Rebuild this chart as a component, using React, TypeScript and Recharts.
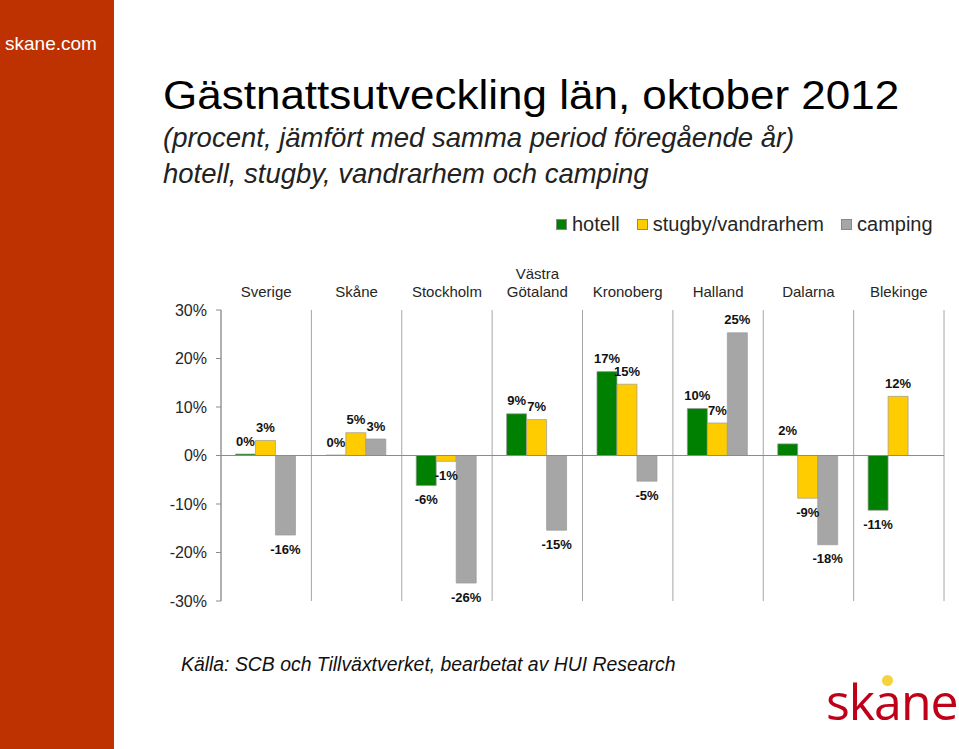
import React from 'react';
import { BarChart, Bar, XAxis, YAxis, CartesianGrid, ReferenceLine, Legend, LabelList } from 'recharts';

const FONT = '"Liberation Sans", Arial, sans-serif';

// Gästnätter, förändring i procent mot oktober 2011
const regions = ['Sverige', 'Skåne', 'Stockholm', 'Västra Götaland', 'Kronoberg', 'Halland', 'Dalarna', 'Blekinge'];
const hotell = [0.3, 0.1, -6.2, 8.6, 17.3, 9.7, 2.4, -11.3];
const stugby = [3.1, 4.7, -1.2, 7.4, 14.7, 6.7, -8.8, 12.2];
const camping = [-16.4, 3.4, -26.3, -15.4, -5.3, 25.3, -18.4, null];
const yTicks = [-30, -20, -10, 0, 10, 20, 30];

const series = [
  { key: 'hotell', name: 'hotell', color: '#008000' },
  { key: 'stugby', name: 'stugby/vandrarhem', color: '#FFCC00' },
  { key: 'camping', name: 'camping', color: '#A6A6A6' },
];

const data = regions.map((region, i) => ({
  region,
  hotell: hotell[i],
  stugby: stugby[i],
  camping: camping[i],
}));

const RegionTick = (props: any) => {
  const { x, y, payload } = props;
  const lines = String(payload.value).split(' ');
  return (
    <g>
      {lines.map((line, i) => (
        <text
          key={i}
          x={x}
          y={y - 13.5 - (lines.length - 1 - i) * 18}
          textAnchor="middle"
          fontSize={15}
          fontFamily={FONT}
          fill="#262626"
        >
          {line}
        </text>
      ))}
    </g>
  );
};

const BarValueLabel = (props: any) => {
  const vb = props.viewBox || {};
  const x = props.x ?? vb.x;
  const y = props.y ?? vb.y;
  const width = props.width ?? vb.width;
  const height = props.height ?? vb.height;
  const { value } = props;
  if (value === null || value === undefined) return null;
  const top = Math.min(y, y + height);
  const bottom = Math.max(y, y + height);
  const ty = value >= 0 ? top - 13 + 4.5 : bottom + 14 + 4.5;
  return (
    <text x={x + width / 2} y={ty} textAnchor="middle" fontSize={13} fontWeight="bold" fontFamily={FONT} fill="#111">
      {Math.round(value)}%
    </text>
  );
};

// keep the series order, recharts sorts the legend by name otherwise
const LegendContent = (props: any) => {
  const items = series
    .map((s) => (props.payload || []).find((p: any) => p.value === s.name))
    .filter(Boolean);
  return (
    <div style={{ display: 'flex', alignItems: 'center', fontSize: 20, fontFamily: FONT, color: '#262626', whiteSpace: 'nowrap' }}>
      {items.map((entry: any) => (
        <div key={entry.value} style={{ display: 'flex', alignItems: 'center', marginRight: 17 }}>
          <span style={{ width: 9, height: 9, background: entry.color, border: '0.5px solid #888', marginRight: 5 }} />
          <span>{entry.value}</span>
        </div>
      ))}
    </div>
  );
};

export default function App() {
  return (
    <div style={{ position: 'absolute', left: 0, top: 0, width: 959, height: 749, background: '#fff', overflow: 'hidden', fontFamily: FONT }}>
      <div style={{ position: 'absolute', left: 0, top: 0, width: 114, height: 749, background: '#BE3100' }} />
      <div style={{ position: 'absolute', left: 5, top: 34, fontSize: 19, lineHeight: 1, color: '#fff' }}>skane.com</div>

      <div style={{ position: 'absolute', left: 163, top: 75, fontSize: 40, lineHeight: 1, color: '#000', whiteSpace: 'nowrap', transform: 'scaleX(1.1)', transformOrigin: 'left' }}>
        Gästnattsutveckling län, oktober 2012
      </div>
      <div style={{ position: 'absolute', left: 163, top: 120, fontSize: 27.5, lineHeight: '36px', fontStyle: 'italic', color: '#222', whiteSpace: 'nowrap' }}>
        (procent, jämfört med samma period föregående år)
        <br />
        hotell, stugby, vandrarhem och camping
      </div>

      <div style={{ position: 'absolute', left: 0, top: 0 }}>
        <BarChart
          width={959}
          height={749}
          data={data}
          margin={{ top: 270, right: 15, bottom: 148, left: 161 }}
          barCategoryGap="16%"
          barGap={0}
        >
          <CartesianGrid
            horizontal={false}
            stroke="#a6a6a6"
            verticalCoordinatesGenerator={({ offset }: any) =>
              regions.map((_, i) => offset.left + (i * offset.width) / regions.length).concat(offset.left + offset.width)
            }
          />
          <XAxis
            dataKey="region"
            orientation="top"
            height={40}
            axisLine={false}
            tickLine={false}
            tickSize={0}
            tickMargin={0}
            interval={0}
            tick={<RegionTick />}
          />
          <YAxis
            width={60}
            domain={[-30, 30]}
            ticks={yTicks}
            tickFormatter={(v: number) => `${v}%`}
            tick={{ fontSize: 16, fill: '#262626', fontFamily: FONT }}
            axisLine={{ stroke: '#8c8c8c' }}
            tickLine={{ stroke: '#8c8c8c' }}
            tickSize={5}
            tickMargin={9}
          />
          <ReferenceLine y={0} stroke="#8c8c8c" />
          <Legend
            verticalAlign="middle"
            align="center"
            layout="horizontal"
            content={<LegendContent />}
            wrapperStyle={{ left: 556, top: 213, width: 'auto', height: 'auto' }}
          />
          {series.map((s) => (
            <Bar key={s.key} dataKey={s.key} name={s.name} fill={s.color} stroke="#9a9a9a" strokeWidth={0.7} isAnimationActive={false}>
              <LabelList dataKey={s.key} content={<BarValueLabel />} />
            </Bar>
          ))}
        </BarChart>
      </div>

      <div style={{ position: 'absolute', left: 181, top: 655, fontSize: 19.4, lineHeight: 1, fontStyle: 'italic', color: '#111', whiteSpace: 'nowrap' }}>
        Källa: SCB och Tillväxtverket, bearbetat av HUI Research
      </div>

      <div style={{ position: 'absolute', left: 826, top: 676, fontSize: 50, lineHeight: 1, color: '#C00018', fontFamily: '"Open Sans", sans-serif', letterSpacing: -1 }}>
        skane
      </div>
      <div style={{ position: 'absolute', left: 882, top: 675, width: 11, height: 11, borderRadius: '50%', background: '#F5D33F' }} />
    </div>
  );
}
